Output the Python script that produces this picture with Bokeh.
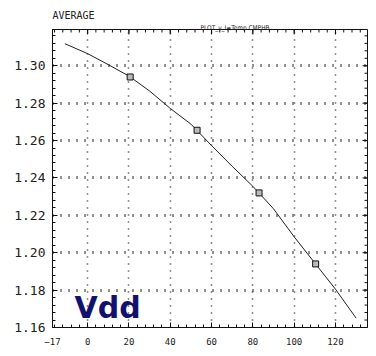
from bokeh.plotting import figure
from bokeh.models import FixedTicker, Range1d, Label, Title, CustomJSTickFormatter, ColumnDataSource
from bokeh.embed import file_html
from bokeh.resources import INLINE

# ---- data ----
curve_x = [-11, 0, 10, 20, 30, 40, 50, 60, 70, 80, 90, 100, 110, 120, 130]
curve_y = [1.3118, 1.3065, 1.3006, 1.2945, 1.2865, 1.2772, 1.2688, 1.2573,
           1.2462, 1.2355, 1.2235, 1.2085, 1.1945, 1.1805, 1.1650]
mark_x = [20.6, 53, 83, 110.4]
mark_y = [1.294, 1.2655, 1.232, 1.194]
x_ticks = [-17, 0, 20, 40, 60, 80, 100, 120]
x_grid = [0, 20, 40, 60, 80, 100, 120]
y_ticks = [1.16, 1.18, 1.20, 1.22, 1.24, 1.26, 1.28, 1.30]
x_minor = list(range(-16, 136, 4))
y_minor = [round(1.16 + 0.004 * i, 3) for i in range(40)]

X0, X1 = -17, 135.5
Y0, Y1 = 1.16, 1.3194
FW, FH = 315, 298

p = figure(frame_width=FW, frame_height=FH, output_backend="svg",
           toolbar_location=None, x_range=Range1d(X0, X1), y_range=Range1d(Y0, Y1),
           min_border_left=52, min_border_right=1, min_border_top=29, min_border_bottom=24,
           background_fill_color="white", border_fill_color="white")
p.outline_line_color = "#111"
p.outline_line_width = 1

p.title.text = "AVERAGE"
p.title.align = "left"
p.title.text_font = "DejaVu Sans Mono"
p.title.text_font_size = "10px"
p.title.text_font_style = "normal"
p.title.text_color = "#222"
p.title.standoff = 6

sub = Title(text="PLOT_v_I=Temp.CMPHB", align="left", offset=148,
            text_font="DejaVu Sans Condensed", text_font_size="6.5px",
            text_font_style="normal", text_color="#222", standoff=-4)
p.add_layout(sub, "above")

for ax in (p.xaxis[0], p.yaxis[0]):
    ax.axis_line_color = "#111"
    ax.major_tick_in = 5
    ax.major_tick_out = 0
    ax.minor_tick_in = 3
    ax.minor_tick_out = 0
    ax.major_tick_line_color = "#111"
    ax.minor_tick_line_color = "#111"

xa = p.xaxis[0]
xa.ticker = FixedTicker(ticks=x_ticks, minor_ticks=x_minor)
xa.major_label_text_font = "DejaVu Sans Mono"
xa.major_label_text_font_size = "9px"
xa.major_label_text_color = "#222"
xa.major_label_standoff = 10

ya = p.yaxis[0]
ya.ticker = FixedTicker(ticks=y_ticks, minor_ticks=y_minor)
ya.formatter = CustomJSTickFormatter(code="return tick.toFixed(2);")
ya.major_label_text_font = "DejaVu Sans Mono"
ya.major_label_text_font_size = "13px"
ya.major_label_text_color = "#222"
ya.major_label_standoff = 7

p.xgrid.ticker = FixedTicker(ticks=x_grid)
p.xgrid.grid_line_color = "#222"
p.xgrid.grid_line_dash = "1 6"
p.xgrid.grid_line_width = 1.5
p.ygrid.ticker = FixedTicker(ticks=y_ticks[1:])
p.ygrid.grid_line_color = "#222"
p.ygrid.grid_line_dash = "1 7"
p.ygrid.grid_line_width = 3

# mirrored inward tick marks on top and right, lengths given in pixels
dx = (X1 - X0) / FW   # data units per pixel, x
dy = (Y1 - Y0) / FH   # data units per pixel, y
sx0, sy0, sx1, sy1 = [], [], [], []
for xs, n in ((x_minor, 3), (x_ticks, 5)):
    for x in xs:
        sx0.append(x); sx1.append(x)
        sy0.append(Y1); sy1.append(Y1 - n * dy)
for ys, n in ((y_minor, 3), (y_ticks, 5)):
    for y in ys:
        sy0.append(y); sy1.append(y)
        sx0.append(X1); sx1.append(X1 - n * dx)
ticks_src = ColumnDataSource(dict(x0=sx0, y0=sy0, x1=sx1, y1=sy1))
p.segment(x0="x0", y0="y0", x1="x1", y1="y1", source=ticks_src,
          line_color="#111", line_width=1)

p.line(curve_x, curve_y, line_color="#222", line_width=1)
p.scatter(mark_x, mark_y, marker="square", size=6, fill_color="#bbbbbb",
          line_color="#111", line_width=1)

p.add_layout(Label(x=-6.3, y=1.1611, text="Vdd", text_font="DejaVu Sans",
                   text_font_style="bold", text_font_size="30px", text_color="#12126e"))

open("out.html", "w").write(file_html(p, INLINE))
